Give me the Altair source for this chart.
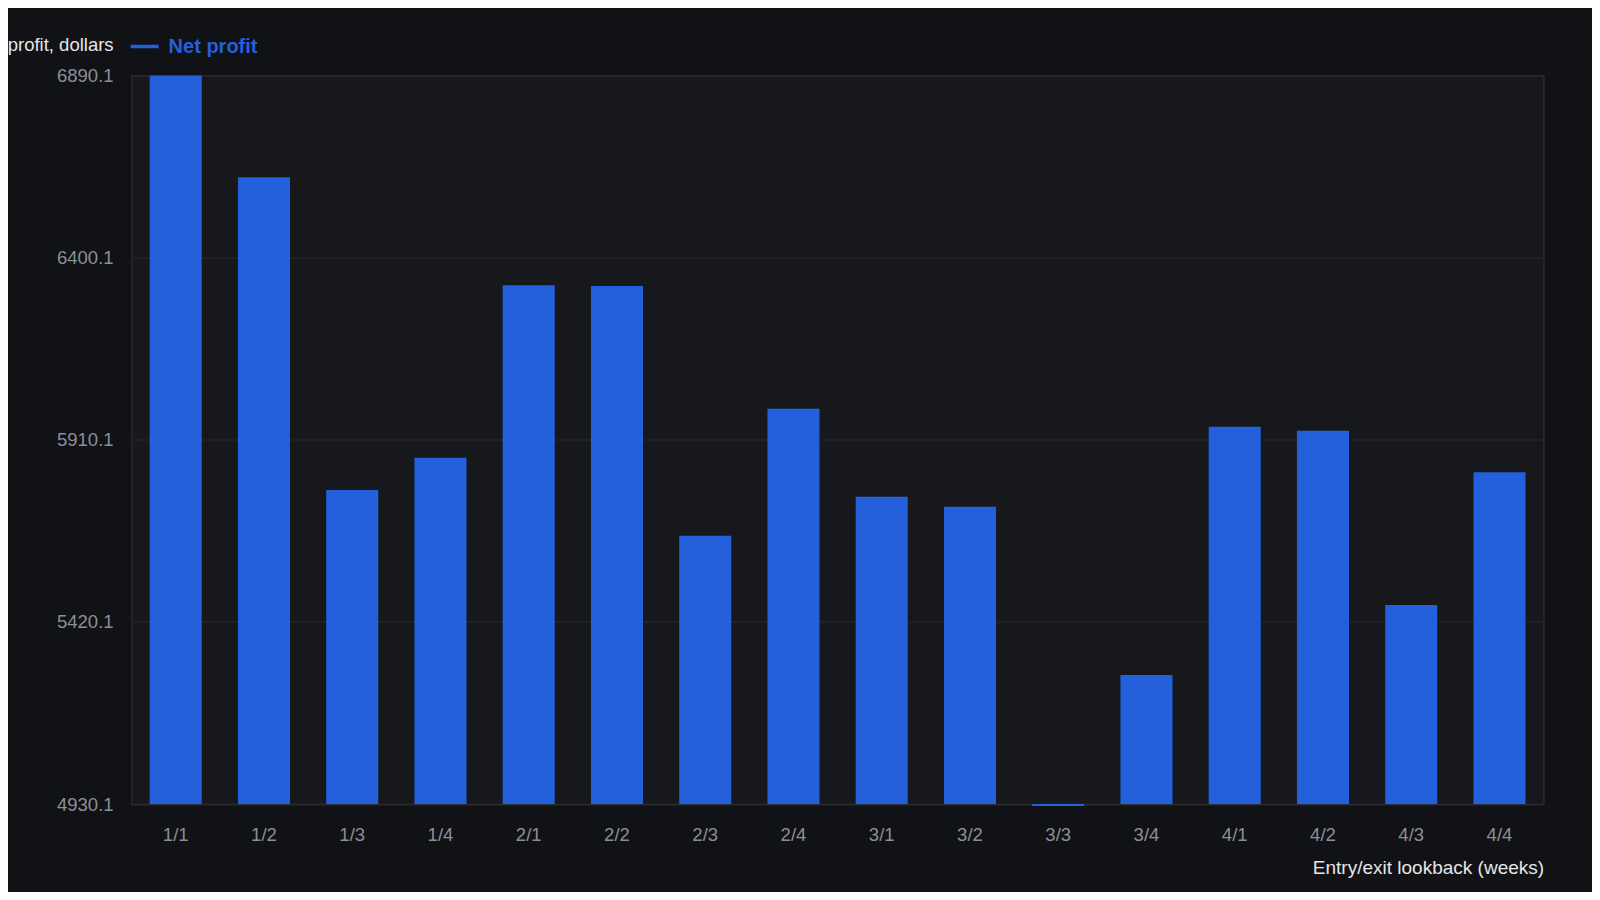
import altair as alt
import pandas as pd

# entry/exit lookback combinations (weeks) and net profit per run
lookbacks = ["1/1", "1/2", "1/3", "1/4", "2/1", "2/2", "2/3", "2/4",
             "3/1", "3/2", "3/3", "3/4", "4/1", "4/2", "4/3", "4/4"]
net_profit = [6890.1, 6616.2, 5774.9, 5861.9, 6325.6, 6323.8, 5652.0, 5993.7,
              5756.9, 5730.0, 4925.0, 5277.2, 5945.2, 5934.5, 5465.5, 5822.5]
y_ticks = [4930.1, 5420.1, 5910.1, 6400.1, 6890.1]
y_min, y_max = 4930.1, 6890.1
series_name = "Net profit"

BLUE = "#245fdc"
BG = "#111216"
PLOT_BG = "#16181c"
FONT = "Liberation Sans"

df = pd.DataFrame({"lookback": lookbacks, "profit": net_profit, "series": series_name})

bars = alt.Chart(df).mark_bar(color=BLUE).encode(
    x=alt.X(
        "lookback:N",
        sort=lookbacks,
        scale=alt.Scale(paddingInner=0.41, paddingOuter=0.205),
        axis=alt.Axis(
            title="Entry/exit lookback (weeks)",
            labelAngle=0,
            labelColor="#8c8f96",
            labelFontSize=18.5,
            labelFont=FONT,
            labelBaseline="middle",
            labelPadding=30,
            ticks=False,
            tickSize=0,
            domain=False,
            grid=False,
            titleColor="#e6e6e6",
            titleFont=FONT,
            titleFontSize=19,
            titleFontWeight="normal",
            titleAlign="right",
            titleBaseline="middle",
            titleX=1412,
            titleY=63,
        ),
    ),
    y=alt.Y(
        "profit:Q",
        scale=alt.Scale(domain=[y_min, y_max], nice=False, zero=False),
        axis=alt.Axis(
            title="profit, dollars",
            values=y_ticks,
            format=".1f",
            labelColor="#8c8f96",
            labelFontSize=18.5,
            labelFont=FONT,
            labelPadding=18.5,
            ticks=False,
            tickSize=0,
            domain=False,
            gridColor="#26282d",
            gridWidth=1,
            titleColor="#e6e6e6",
            titleFont=FONT,
            titleFontSize=18.5,
            titleFontWeight="normal",
            titleAngle=0,
            titleAlign="right",
            titleBaseline="middle",
            titleX=-18.5,
            titleY=-31.5,
        ),
    ),
    y2=alt.datum(y_min),
    color=alt.Color(
        "series:N",
        scale=alt.Scale(range=[BLUE]),
        legend=alt.Legend(
            title=None,
            orient="none",
            legendX=-3,
            legendY=-45,
            symbolType="stroke",
            symbolSize=784,
            symbolStrokeWidth=3.5,
            symbolStrokeColor=BLUE,
            labelColor=BLUE,
            labelFont=FONT,
            labelFontSize=20,
            labelFontWeight="bold",
            labelOffset=8,
            padding=0,
        ),
    ),
).properties(
    width=1412,
    height=728.5,
    background=BG,
    padding={"left": 123.6, "top": 67.5, "right": 48.4, "bottom": 88},
    autosize=alt.AutoSizeParams(type="none"),
).configure_view(
    fill=PLOT_BG,
    stroke="#2c2e33",
    strokeWidth=1.2,
)

chart = bars
chart.save("out.html", embed_options={"renderer": "svg", "actions": False})
